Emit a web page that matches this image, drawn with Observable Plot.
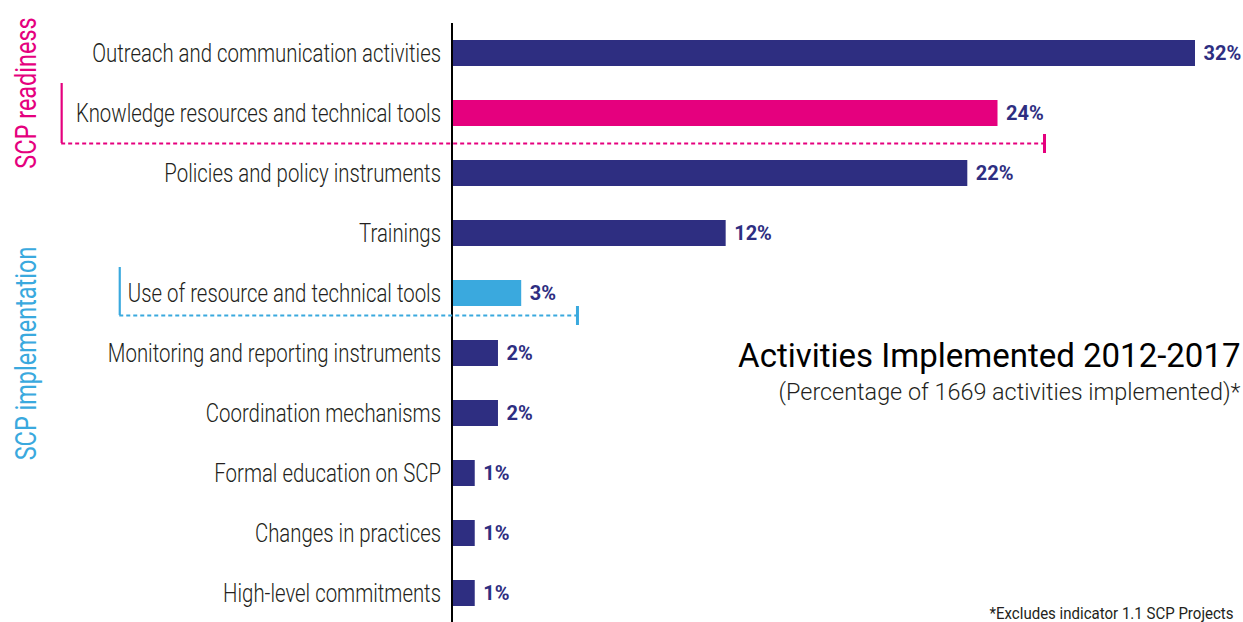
<!DOCTYPE html>
<html><head><meta charset="utf-8">
<script src="https://cdn.jsdelivr.net/npm/d3@7"></script>
<script src="https://cdn.jsdelivr.net/npm/@observablehq/plot@0.6"></script>
<style>
html,body{margin:0;padding:0;background:#fff;}
#chart{width:1243px;height:622px;overflow:hidden;}
svg{display:block;}
</style></head><body><div id="chart"></div>
<script>
// ---- data ----
const categories = [
  "Outreach and communication activities",
  "Knowledge resources and technical tools",
  "Policies and policy instruments",
  "Trainings",
  "Use of resource and technical tools",
  "Monitoring and reporting instruments",
  "Coordination mechanisms",
  "Formal education on SCP",
  "Changes in practices",
  "High-level commitments"
];
const values = [32.0, 23.5, 22.2, 11.8, 3.0, 2.0, 2.0, 1.0, 1.0, 1.0];
const groups = ["SCP readiness", "SCP implementation"];
const groupCategory = ["Knowledge resources and technical tools", "Use of resource and technical tools"];
const groupLabelAnchor = ["Knowledge resources and technical tools", "Monitoring and reporting instruments"];
const bracketStart = [-16.8, -14.3];
const bracketEnd = [25.5, 5.4];
const title = "Activities Implemented 2012-2017";
const subtitle = "(Percentage of 1669 activities implemented)*";
const footnote = "*Excludes indicator 1.1 SCP Projects";

// ---- styles ----
const NAVY = "#2e2e81", MAGENTA = "#e5007e", BLUE = "#3aa9de", INK = "#231f20";
const groupColors = [MAGENTA, BLUE];
const FONT = "Roboto, 'Noto Sans', sans-serif";
const lineOffset = [30, 22];     // dashed line below band centre (px)
const topExtend = [17, 13];      // bracket vertical above band top (px)
const groupLabelDy = [-20.5, 0];

const rows = categories.map((c, i) => ({
  category: c,
  value: values[i],
  label: Math.round(values[i]) + "%",
  group: groupCategory.includes(c) ? groups[groupCategory.indexOf(c)] : "Other"
}));

const bracketMarks = groups.flatMap((g, i) => {
  const col = groupColors[i];
  const cat = groupCategory[i];
  return [
    Plot.ruleY([{y: cat, x1: bracketStart[i], x2: bracketEnd[i]}], {
      y: "y", x1: "x1", x2: "x2", dy: lineOffset[i],
      stroke: col, strokeWidth: 2.2, strokeDasharray: "4,3"
    }),
    Plot.tickX([{x: bracketStart[i], y: cat}], {
      x: "x", y: "y", stroke: col, strokeWidth: 2.2,
      insetTop: -topExtend[i], insetBottom: -(lineOffset[i] - 13)
    }),
    Plot.tickX([{x: bracketEnd[i], y: cat}], {
      x: "x", y: "y", dy: lineOffset[i], stroke: col, strokeWidth: 3,
      insetTop: 4, insetBottom: 3
    }),
    Plot.text([{g, y: groupLabelAnchor[i]}], {
      x: () => -18.3, y: "y", text: "g", rotate: -90, dy: groupLabelDy[i],
      textAnchor: "middle", lineAnchor: "middle",
      fontSize: 29, fontWeight: 400, fill: col, fontFamily: FONT
    })
  ];
});

const chart = Plot.plot({
  width: 1243,
  height: 622,
  marginLeft: 451.5,
  marginRight: 48,
  marginTop: 28,
  marginBottom: 4,
  style: {fontFamily: FONT, background: "#fff"},
  x: {domain: [0, 32], axis: null},
  y: {domain: categories, axis: null, paddingInner: 0.567, paddingOuter: 0.2},
  color: {domain: ["Other", ...groups], range: [NAVY, ...groupColors]},
  marks: [
    Plot.barX(rows, {x: "value", y: "category", fill: "group"}),
    Plot.ruleX([0], {stroke: "#000", strokeWidth: 2, insetTop: -5, insetBottom: -4}),
    Plot.text(rows, {
      x: () => 0, y: "category", text: "category", dx: -11,
      textAnchor: "end", lineAnchor: "middle",
      fontSize: 25, fontWeight: 300, fill: INK, fontFamily: FONT
    }),
    Plot.text(rows, {
      x: "value", y: "category", text: "label", dx: 8,
      textAnchor: "start", lineAnchor: "middle",
      fontSize: 20, fontWeight: 700, fill: NAVY, fontFamily: FONT
    }),
    ...bracketMarks,
    Plot.text([title], {
      text: d => d, frameAnchor: "top-right", lineAnchor: "middle", textAnchor: "end",
      dx: 45, dy: 328, fontSize: 33, fontWeight: 400, fill: "#000", fontFamily: FONT
    }),
    Plot.text([subtitle], {
      text: d => d, frameAnchor: "top-right", lineAnchor: "middle", textAnchor: "end",
      dx: 45, dy: 364, fontSize: 24, fontWeight: 300, fill: INK, fontFamily: FONT
    }),
    Plot.text([footnote], {
      text: d => d, frameAnchor: "top-right", lineAnchor: "middle", textAnchor: "end",
      dx: 38, dy: 585, fontSize: 16, fontWeight: 400, fill: INK, fontFamily: FONT
    })
  ]
});

// condense text horizontally (reference uses a condensed face)
const squeezeFor = new Map([
  ...categories.map(c => [c, 0.815]),
  ...groups.map(g => [g, 0.81]),
  [subtitle, 0.975],
  [footnote, 0.94]
]);
chart.querySelectorAll("text").forEach(t => {
  const s = squeezeFor.get(t.textContent);
  if (!s) return;
  let tr = t.getAttribute("transform") || "";
  if (!tr.includes("translate")) {
    const x = +t.getAttribute("x") || 0, y = +t.getAttribute("y") || 0;
    t.removeAttribute("x"); t.removeAttribute("y");
    tr = `translate(${x},${y}) ` + tr;
  }
  t.setAttribute("transform", tr + ` scale(${s},1)`);
});

document.getElementById("chart").appendChild(chart);
</script>
</body></html>
